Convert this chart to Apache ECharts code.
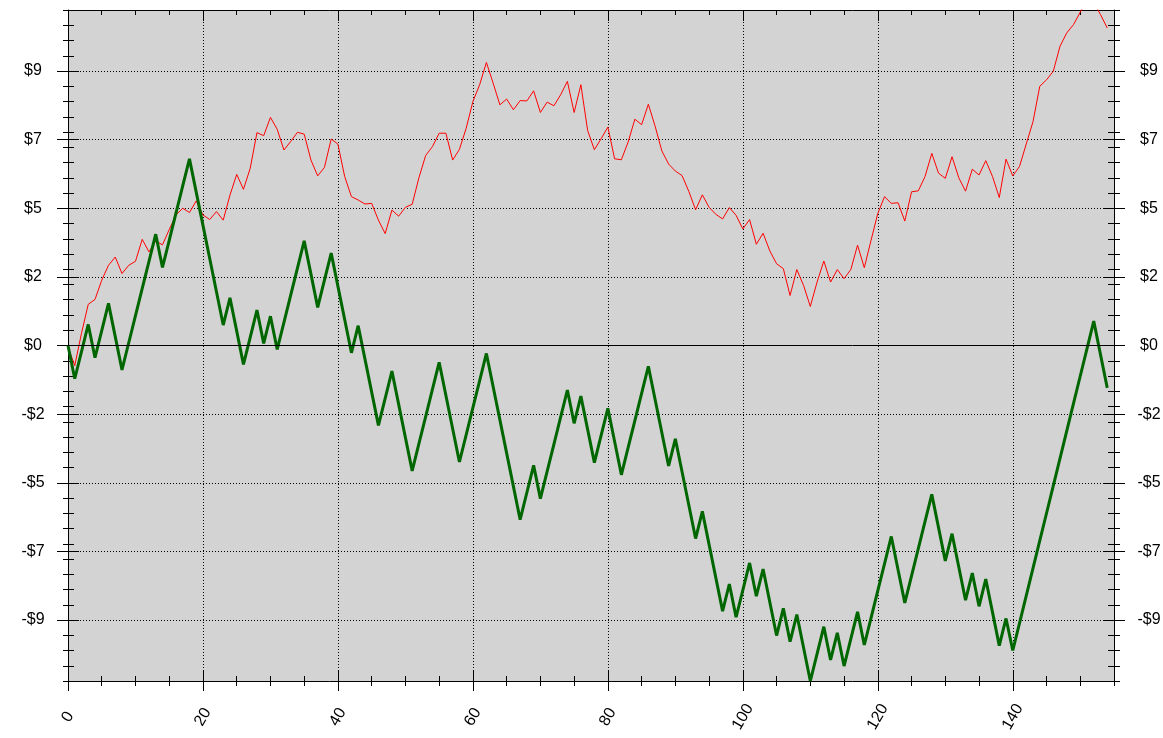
<!DOCTYPE html>
<html>
<head>
<meta charset="utf-8">
<title>chart</title>
<script src="https://cdn.jsdelivr.net/npm/echarts@6.0.0/dist/echarts.min.js"></script>
<style>
html, body { margin: 0; padding: 0; background: #fff; }
#main { width: 1163px; height: 738px; }
</style>
</head>
<body>
<div id="main"></div>
<script>
// red line (thin)
const redValues = [
  -0.05, -0.66, 0.4, 1.35, 1.51, 2.14, 2.63, 2.9, 2.36, 2.63,
  2.76, 3.48, 3.07, 3.43, 3.3, 3.8, 4.28, 4.5, 4.36, 4.74,
  4.28, 4.13, 4.39, 4.11, 4.93, 5.61, 5.12, 5.81, 6.98, 6.88,
  7.48, 7.09, 6.41, 6.69, 6.99, 6.93, 6.08, 5.56, 5.84, 6.77,
  6.6, 5.54, 4.88, 4.77, 4.64, 4.66, 4.11, 3.67, 4.44, 4.24,
  4.53, 4.63, 5.5, 6.23, 6.52, 6.96, 6.96, 6.08, 6.43, 7.12,
  8.0, 8.55, 9.28, 8.6, 7.89, 8.08, 7.73, 8.03, 8.02, 8.35,
  7.64, 7.98, 7.86, 8.22, 8.66, 7.64, 8.55, 7.05, 6.42, 6.78,
  7.16, 6.12, 6.09, 6.67, 7.42, 7.24, 7.91, 7.19, 6.38, 5.95,
  5.72, 5.57, 5.05, 4.45, 4.94, 4.53, 4.3, 4.15, 4.52, 4.27,
  3.82, 4.13, 3.32, 3.68, 3.1, 2.68, 2.52, 1.64, 2.49, 1.97,
  1.28, 2.08, 2.77, 2.08, 2.49, 2.19, 2.49, 3.29, 2.55, 3.45,
  4.33, 4.88, 4.66, 4.68, 4.08, 5.04, 5.07, 5.54, 6.3, 5.65,
  5.48, 6.19, 5.5, 5.06, 5.78, 5.59, 6.06, 5.54, 4.85, 6.11,
  5.56, 5.87, 6.61, 7.34, 8.5, 8.71, 8.99, 9.81, 10.25, 10.52,
  10.93, 11.3, 11.25, 10.85, 10.41
];
// green line (thick)
const greenValues = [
  0, -1.09, -0.2, 0.69, -0.4, 0.49, 1.38, 0.29, -0.8, 0.09,
  0.98, 1.87, 2.76, 3.65, 2.56, 3.45, 4.34, 5.23, 6.12, 5.03,
  3.94, 2.85, 1.76, 0.67, 1.56, 0.47, -0.62, 0.27, 1.16, 0.07,
  0.96, -0.13, 0.76, 1.65, 2.54, 3.43, 2.34, 1.25, 2.14, 3.03,
  1.94, 0.85, -0.24, 0.65, -0.44, -1.53, -2.62, -1.73, -0.84, -1.93,
  -3.02, -4.11, -3.22, -2.33, -1.44, -0.55, -1.64, -2.73, -3.82, -2.93,
  -2.04, -1.15, -0.26, -1.35, -2.44, -3.53, -4.62, -5.71, -4.82, -3.93,
  -5.02, -4.13, -3.24, -2.35, -1.46, -2.55, -1.66, -2.75, -3.84, -2.95,
  -2.06, -3.15, -4.24, -3.35, -2.46, -1.57, -0.68, -1.77, -2.86, -3.95,
  -3.06, -4.15, -5.24, -6.33, -5.44, -6.53, -7.62, -8.71, -7.82, -8.91,
  -8.02, -7.13, -8.22, -7.33, -8.42, -9.51, -8.62, -9.71, -8.82, -9.91,
  -11.0, -10.11, -9.22, -10.31, -9.42, -10.51, -9.62, -8.73, -9.82, -8.93,
  -8.04, -7.15, -6.26, -7.35, -8.44, -7.55, -6.66, -5.77, -4.88, -5.97,
  -7.06, -6.17, -7.26, -8.35, -7.46, -8.55, -7.66, -8.75, -9.84, -8.95,
  -10.0, -9.1, -8.2, -7.3, -6.4, -5.5, -4.6, -3.7, -2.8, -1.9,
  -1.0, -0.1, 0.8, -0.3, -1.39
];
const xTicks = [0, 20, 40, 60, 80, 100, 120, 140];
const yTicks = [-9, -6.75, -4.5, -2.25, 0, 2.25, 4.5, 6.75, 9];

const xMin = 0, xMax = 155, xMinor = 5;
const yMin = -11, yMax = 11, yMinor = 0.5;

const font = '"Liberation Sans", Arial, sans-serif';
const labelSize = 16;
const black = { color: '#000', width: 1 };

const money = v => (v < 0 ? '-' : '') + '$' + Math.round(Math.abs(v));

// bare axis, only the ticks asked for are switched on
function axisPart(type, pos, tick, extra) {
  const isX = type === 'x';
  return Object.assign({
    type: 'value',
    position: pos,
    min: isX ? xMin : yMin,
    max: isX ? xMax : yMax,
    axisLine: { show: false, onZero: false },
    axisLabel: { show: false },
    splitLine: { show: false },
    axisTick: Object.assign({ show: true, lineStyle: black }, tick)
  }, extra || {});
}

const xAxes = [
  axisPart('x', 'bottom', { customValues: xTicks, length: 10 }, {
    axisLine: { show: true, onZero: false, lineStyle: black },
    axisLabel: {
      show: true, customValues: xTicks, rotate: 60, align: 'center', verticalAlign: 'middle',
      margin: 36, color: '#000', fontFamily: font, fontSize: labelSize
    },
    splitLine: { show: true, lineStyle: { color: '#000', width: 1, type: [1, 2] } }
  }),
  axisPart('x', 'bottom', { customValues: xTicks, length: 11, inside: true }),
  axisPart('x', 'bottom', { length: 5 }, { interval: xMinor }),
  axisPart('x', 'bottom', { length: 5, inside: true }, { interval: xMinor }),
  axisPart('x', 'top', { customValues: xTicks, length: 11, inside: true }, {
    axisLine: { show: true, onZero: false, lineStyle: black }
  }),
  axisPart('x', 'top', { length: 5, inside: true }, { interval: xMinor })
];

const yLabel = {
  show: true, customValues: yTicks, formatter: money, align: 'center',
  margin: 35, color: '#000', fontFamily: font, fontSize: labelSize
};

const yAxes = [
  axisPart('y', 'left', { customValues: yTicks, length: 11 }, {
    axisLine: { show: true, onZero: false, lineStyle: black },
    axisLabel: yLabel,
    splitLine: { show: true, lineStyle: { color: '#000', width: 1, type: [1, 2] } }
  }),
  axisPart('y', 'left', { customValues: yTicks, length: 11, inside: true }),
  axisPart('y', 'left', { length: 5 }, { interval: yMinor }),
  axisPart('y', 'left', { length: 6, inside: true }, { interval: yMinor }),
  axisPart('y', 'right', { customValues: yTicks, length: 11 }, {
    axisLine: { show: true, onZero: false, lineStyle: black },
    axisLabel: yLabel
  }),
  axisPart('y', 'right', { customValues: yTicks, length: 11, inside: true }),
  axisPart('y', 'right', { length: 6 }, { interval: yMinor }),
  axisPart('y', 'right', { length: 6, inside: true }, { interval: yMinor })
];

const chart = echarts.init(document.getElementById('main'));
const option = {
  animation: false,
  backgroundColor: '#fff',
  grid: {
    left: 68, top: 10, width: 1046, height: 671,
    containLabel: false, outerBoundsMode: 'none',
    show: true, backgroundColor: '#d3d3d3', borderWidth: 0
  },
  xAxis: xAxes,
  yAxis: yAxes,
  series: [
    {
      type: 'line',
      data: redValues.map((v, i) => [i, v]),
      xAxisIndex: 0, yAxisIndex: 0,
      symbol: 'none',
      color: '#ff0000',
      lineStyle: { color: '#ff0000', width: 1 },
      z: 3,
      markLine: {
        silent: true, symbol: ['none', 'none'], label: { show: false },
        lineStyle: { color: '#000', type: 'solid', width: 1 },
        data: [{ yAxis: 0 }]
      }
    },
    {
      type: 'line',
      data: greenValues.map((v, i) => [i, v]),
      xAxisIndex: 0, yAxisIndex: 0,
      symbol: 'none',
      color: '#006600',
      lineStyle: { color: '#006600', width: 3 },
      z: 4
    }
  ]
};
chart.setOption(option);
</script>
</body>
</html>
